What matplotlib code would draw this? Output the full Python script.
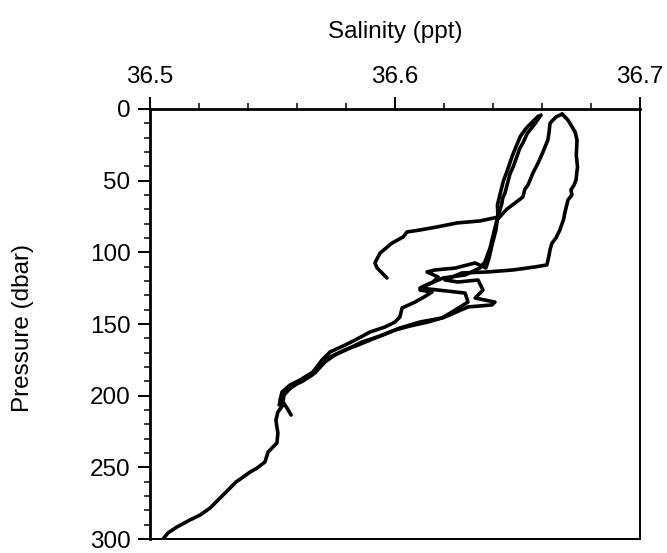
import matplotlib
matplotlib.use("Agg")
import matplotlib.pyplot as plt
from matplotlib.ticker import MultipleLocator

plt.rcParams['font.family'] = ['Liberation Sans', 'DejaVu Sans']

# CTD casts: salinity (ppt) against pressure (dbar)
cast_a_sal = [36.6596, 36.6570, 36.6540, 36.6522, 36.6508, 36.6500, 36.6482, 36.6470, 36.6462,
              36.6449, 36.6440, 36.6436, 36.6420,
              36.6347, 36.6253, 36.6171, 36.6102, 36.6049, 36.6033, 36.5988, 36.5939,
              36.5918, 36.5927, 36.5967]
cast_a_pres = [4.2, 10.5, 17.0, 23.7, 28.0, 32.0, 40.5, 45.0, 50.0,
               58.6, 62.0, 66.0, 75.4,
               78.1, 79.5, 82.3, 84.4, 85.8, 89.3, 93.5, 100.5,
               107.4, 110.9, 117.9]

cast_b_sal = [36.6585, 36.6536, 36.6512, 36.6497, 36.6478, 36.6462, 36.6442, 36.6428, 36.6418,
              36.6420, 36.6412, 36.6396, 36.6384, 36.6371, 36.6327, 36.6245, 36.6163,
              36.6131, 36.6176, 36.6155, 36.6110, 36.6102, 36.6151, 36.6120, 36.6082,
              36.6029, 36.6020, 36.6000, 36.5959, 36.5898, 36.5837, 36.5796, 36.5735,
              36.5702, 36.5665, 36.5612, 36.5571, 36.5539, 36.5531, 36.5543, 36.5522,
              36.5514, 36.5518, 36.5522, 36.5518, 36.5482, 36.5469, 36.5437, 36.5408,
              36.5380, 36.5351, 36.5327, 36.5286, 36.5245, 36.5204, 36.5163, 36.5110,
              36.5073, 36.5053]
cast_b_pres = [4.9, 13.3, 19.0, 25.1, 33.0, 41.2, 50.5, 60.0, 67.0,
               74.0, 84.4, 94.9, 104.0, 110.9, 107.4, 111.0, 112.3,
               113.7, 117.2, 120.7, 124.2, 126.3, 127.7, 131.0, 134.7,
               138.8, 145.1, 148.6, 152.1, 155.6, 161.2, 164.7, 169.5,
               175.1, 183.5, 189.1, 192.6, 197.4, 203.0, 206.5, 211.4,
               217.0, 221.9, 226.0, 233.0, 239.3, 246.3, 250.5, 253.3,
               256.8, 260.2, 264.4, 271.4, 278.4, 283.3, 286.7, 291.6,
               295.8, 300.0]

cast_c_sal = [36.6682, 36.6706, 36.6735, 36.6743, 36.6740, 36.6745, 36.6741, 36.6739, 36.6731,
              36.6718, 36.6722, 36.6706, 36.6694, 36.6688, 36.6673, 36.6657, 36.6641,
              36.6633, 36.6629, 36.6620, 36.6571, 36.6482, 36.6376, 36.6273, 36.6204,
              36.6257, 36.6339, 36.6359, 36.6327, 36.6408, 36.6396, 36.6298, 36.6204,
              36.6135, 36.6061, 36.6000, 36.5939, 36.5865, 36.5816, 36.5755, 36.5714,
              36.5673, 36.5624, 36.5580, 36.5547, 36.5543, 36.5559, 36.5576]
cast_c_pres = [3.5, 7.7, 16.0, 21.6, 32.1, 40.5, 46.0, 49.5, 53.0,
               56.5, 60.0, 63.5, 71.9, 77.0, 84.4, 90.0, 93.5,
               98.0, 101.9, 108.8, 110.2, 112.3, 113.7, 114.4, 119.3,
               120.7, 119.3, 126.3, 131.9, 134.7, 136.7, 138.1, 145.1,
               148.6, 151.4, 154.2, 158.4, 162.6, 166.7, 171.6, 176.5,
               184.2, 189.8, 193.3, 199.5, 204.4, 208.6, 213.5]

cast_d_sal = [36.6682, 36.6657, 36.6633, 36.6629, 36.6624, 36.6604, 36.6584, 36.6563, 36.6543,
              36.6530, 36.6522, 36.6490, 36.6457, 36.6416, 36.6404, 36.6388, 36.6367,
              36.6347, 36.6286, 36.6196, 36.6102, 36.6286, 36.6298, 36.6233, 36.6192,
              36.6102, 36.6020, 36.5980, 36.5918, 36.5849, 36.5796, 36.5735, 36.5694,
              36.5661, 36.5604, 36.5563, 36.5535, 36.5527]
cast_d_pres = [3.5, 5.6, 9.8, 16.0, 21.6, 30.0, 37.7, 44.7, 53.0,
               56.0, 61.4, 65.6, 69.8, 77.4, 85.8, 97.0, 106.7,
               110.9, 115.8, 117.9, 124.9, 128.4, 134.7, 141.6, 145.8,
               148.6, 152.8, 155.6, 159.8, 164.7, 168.1, 173.0, 177.9,
               185.6, 191.2, 196.0, 201.6, 206.5]

casts = [(cast_a_sal, cast_a_pres), (cast_b_sal, cast_b_pres),
         (cast_c_sal, cast_c_pres), (cast_d_sal, cast_d_pres)]

x_ticks = [36.5, 36.6, 36.7]
x_tick_labels = ["36.5", "36.6", "36.7"]
y_ticks = [0, 50, 100, 150, 200, 250, 300]

fig = plt.figure(figsize=(6.67, 5.53), dpi=100)
ax = fig.add_axes([0.2249, 0.0253, 0.7346, 0.7776])

for sal, pres in casts:
    ax.plot(sal, pres, color="black", lw=2.6, solid_joinstyle="round",
            solid_capstyle="round")

ax.set_xlim(36.5, 36.7)
ax.set_ylim(300, 0)

ax.xaxis.tick_top()
ax.xaxis.set_label_position("top")
ax.set_xticks(x_ticks)
ax.set_xticklabels(x_tick_labels)
ax.xaxis.set_minor_locator(MultipleLocator(0.02))
ax.set_yticks(y_ticks)
ax.yaxis.set_minor_locator(MultipleLocator(10))

ax.tick_params(axis="both", which="major", direction="out", length=9, width=1.4,
               labelsize=17.5, color="black")
ax.tick_params(axis="both", which="minor", direction="out", length=4, width=1.1)
ax.tick_params(axis="x", which="major", pad=6)
ax.tick_params(axis="y", which="major", pad=5)

ax.set_xlabel("Salinity (ppt)", fontsize=17.5, labelpad=20)
ax.set_ylabel("Pressure (dbar)", fontsize=17.5)
ax.yaxis.set_label_coords(-0.237, 0.49)

for side in ["top", "left"]:
    ax.spines[side].set_linewidth(2.0)
for side in ["right", "bottom"]:
    ax.spines[side].set_linewidth(1.4)

fig.savefig("out.png", dpi=100)
